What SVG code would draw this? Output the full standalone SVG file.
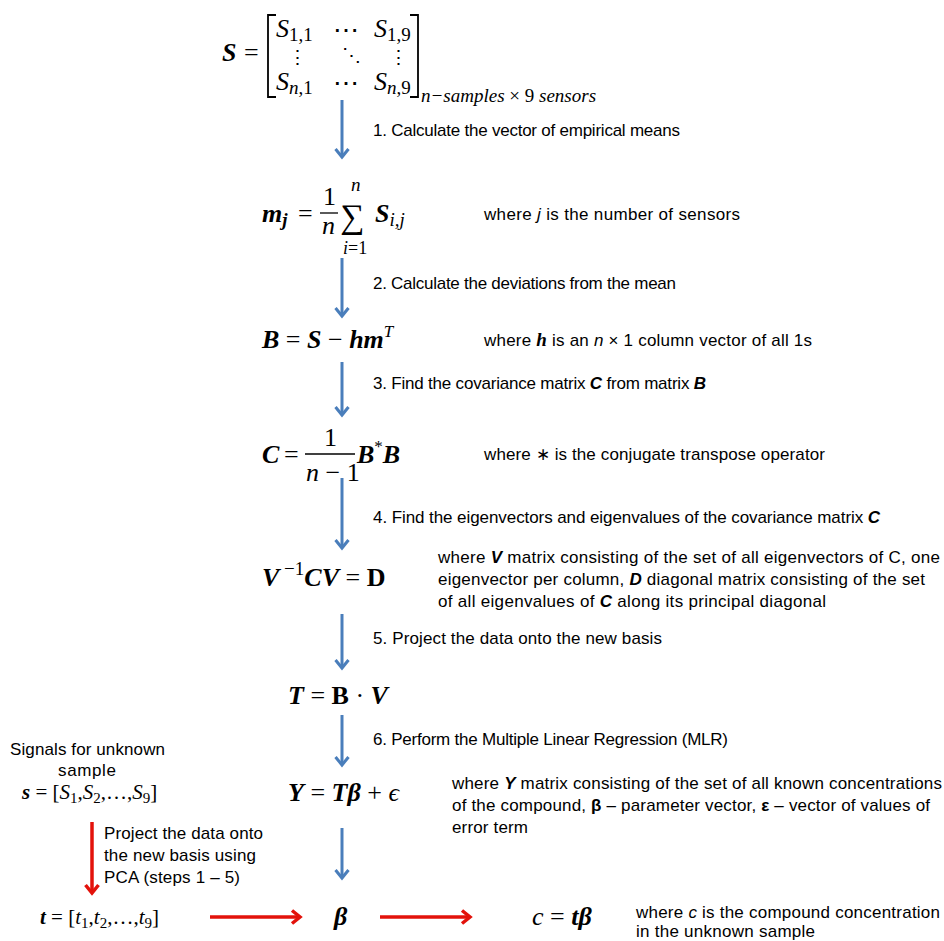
<svg xmlns="http://www.w3.org/2000/svg" width="944" height="941" viewBox="0 0 944 941">
<defs>
<style>
.m{font-family:"Liberation Serif","DejaVu Serif",serif;font-size:26px;fill:#000}
.bi{font-weight:bold;font-style:italic}
.it{font-style:italic}
.b{font-weight:bold}
.t{font-family:"Liberation Sans",Arial,sans-serif;font-size:17px;fill:#000}
.blue{stroke:#4a7ebb;stroke-width:3;fill:none}
.red{stroke:#e3120b;stroke-width:3.5;fill:none}
</style>
<marker id="ab" markerUnits="userSpaceOnUse" markerWidth="16" markerHeight="16" refX="13" refY="8" orient="auto">
<path d="M5,1.5 L13,8 L5,14.5" fill="none" stroke="#4a7ebb" stroke-width="3"/>
</marker>
<marker id="ar" markerUnits="userSpaceOnUse" markerWidth="16" markerHeight="16" refX="13" refY="8" orient="auto">
<path d="M5,1.5 L13,8 L5,14.5" fill="none" stroke="#e3120b" stroke-width="3.5"/>
</marker>
</defs>
<rect width="944" height="941" fill="#fff"/>

<g id="connectors">
<line class="blue" x1="342" y1="100" x2="342" y2="157" marker-end="url(#ab)"/>
<line class="blue" x1="342" y1="258" x2="342" y2="316" marker-end="url(#ab)"/>
<line class="blue" x1="342" y1="362" x2="342" y2="415" marker-end="url(#ab)"/>
<line class="blue" x1="342" y1="478" x2="342" y2="548" marker-end="url(#ab)"/>
<line class="blue" x1="342" y1="614" x2="342" y2="668" marker-end="url(#ab)"/>
<line class="blue" x1="342" y1="715" x2="342" y2="765" marker-end="url(#ab)"/>
<line class="blue" x1="342" y1="828" x2="342" y2="878" marker-end="url(#ab)"/>
<line class="red" x1="92" y1="822" x2="92" y2="893" marker-end="url(#ar)"/>
<line class="red" x1="210" y1="917" x2="300" y2="917" marker-end="url(#ar)"/>
<line class="red" x1="380" y1="917" x2="470" y2="917" marker-end="url(#ar)"/>
</g>

<g id="matrix-S">
<text class="m bi" x="222" y="61">S</text>
<text class="m" x="244" y="61">=</text>
<path d="M276,15 H268 V97 H276 M410,15 H418 V97 H410" fill="none" stroke="#000" stroke-width="1.8"/>
<text class="m it" x="276" y="37">S<tspan font-size="19" dy="4" font-style="normal">1,1</tspan></text>
<text class="m" x="333" y="39">⋯</text>
<text class="m it" x="374" y="37">S<tspan font-size="19" dy="4" font-style="normal">1,9</tspan></text>
<text class="m" x="288" y="64" style="font-size:19px">⋮</text>
<text class="m" x="342" y="62" style="font-size:19px">⋱</text>
<text class="m" x="389" y="64" style="font-size:19px">⋮</text>
<text class="m it" x="276" y="90">S<tspan font-size="19" dy="4">n</tspan><tspan font-size="19" font-style="normal">,1</tspan></text>
<text class="m" x="333" y="92">⋯</text>
<text class="m it" x="374" y="90">S<tspan font-size="19" dy="4">n</tspan><tspan font-size="19" font-style="normal">,9</tspan></text>
<text class="m it" x="421" y="102" style="font-size:19px">n−samples <tspan font-style="normal">× 9</tspan> sensors</text>
</g>

<g id="step1">
<text class="t" x="373" y="136" textLength="307">1. Calculate the vector of empirical means</text>
</g>

<g id="eq-mean">
<text class="m" x="262" y="222"><tspan class="bi">m</tspan><tspan class="bi" font-size="19" dy="4">j</tspan></text>
<text class="m" x="298" y="222">=</text>
<text class="m" x="323" y="205">1</text>
<line x1="320" y1="213" x2="338" y2="213" stroke="#000" stroke-width="1.3"/>
<text class="m it" x="322" y="234">n</text>
<text class="m" x="340" y="228" style="font-size:34px">∑</text>
<text class="m it" x="351" y="191" style="font-size:19px">n</text>
<text class="m" x="343" y="254" style="font-size:18px"><tspan class="it">i</tspan>=1</text>
<text class="m" x="375" y="222"><tspan class="bi">S</tspan><tspan class="it" font-size="19" dy="4">i,j</tspan></text>
<text class="t" x="484" y="220" textLength="256">where <tspan class="it">j</tspan> is the number of sensors</text>
</g>

<g id="step2">
<text class="t" x="373" y="289" textLength="303">2. Calculate the deviations from the mean</text>
</g>

<g id="eq-B">
<text class="m" x="262" y="348"><tspan class="bi">B</tspan> = <tspan class="bi">S</tspan> − <tspan class="bi">hm</tspan><tspan class="it" font-size="17" dy="-11">T</tspan></text>
<text class="t" x="484" y="346" textLength="328">where <tspan font-family="Liberation Serif" font-weight="bold" font-style="italic" font-size="19">h</tspan> is an <tspan class="it">n</tspan> × 1 column vector of all 1s</text>
</g>

<g id="step3">
<text class="t" x="373" y="389" textLength="333">3. Find the covariance matrix <tspan class="bi">C</tspan> from matrix <tspan class="bi">B</tspan></text>
</g>

<g id="eq-C">
<text class="m bi" x="262" y="463">C</text>
<text class="m" x="284" y="463">=</text>
<text class="m" x="324" y="446">1</text>
<line x1="305" y1="454" x2="355" y2="454" stroke="#000" stroke-width="1.3"/>
<text class="m" x="306" y="481"><tspan class="it">n</tspan> − 1</text>
<text class="m" x="357" y="463"><tspan class="bi">B</tspan><tspan font-size="17" dy="-11">*</tspan><tspan class="bi" dy="11">B</tspan></text>
<text class="t" x="484" y="460" textLength="341">where ∗ is the conjugate transpose operator</text>
</g>

<g id="step4">
<text class="t" x="373" y="523" textLength="507">4. Find the eigenvectors and eigenvalues of the covariance matrix <tspan class="bi">C</tspan></text>
</g>

<g id="eq-eig">
<text class="m" x="262" y="586"><tspan class="bi">V</tspan><tspan font-size="19" dy="-11"> −1</tspan><tspan class="bi" dy="11">CV</tspan> = <tspan class="b">D</tspan></text>
<text class="t" x="438" y="563" textLength="502">where <tspan class="bi">V</tspan> matrix consisting of the set of all eigenvectors of C, one</text>
<text class="t" x="438" y="585" textLength="487">eigenvector per column, <tspan class="bi">D</tspan> diagonal matrix consisting of the set</text>
<text class="t" x="438" y="607" textLength="388">of all eigenvalues of <tspan class="bi">C</tspan> along its principal diagonal</text>
</g>

<g id="step5">
<text class="t" x="373" y="644" textLength="289">5. Project the data onto the new basis</text>
</g>

<g id="eq-T">
<text class="m" x="288" y="704"><tspan class="bi">T</tspan> = <tspan class="b">B</tspan> · <tspan class="bi">V</tspan></text>
</g>

<g id="step6">
<text class="t" x="373" y="745" textLength="355">6. Perform the Multiple Linear Regression (MLR)</text>
</g>

<g id="eq-Y">
<text class="m" x="288" y="801"><tspan class="bi">Y</tspan> = <tspan class="bi">Tβ</tspan> + <tspan class="it">ϵ</tspan></text>
<text class="t" x="452" y="789" textLength="490">where <tspan class="bi">Y</tspan> matrix consisting of the set of all known concentrations</text>
<text class="t" x="452" y="811" textLength="478">of the compound, <tspan class="b">β</tspan> – parameter vector, <tspan class="b">ε</tspan> – vector of values of</text>
<text class="t" x="452" y="833" textLength="76">error term</text>
</g>

<g id="unknown-sample">
<text class="t" x="10" y="755" textLength="155">Signals for unknown</text>
<text class="t" x="58" y="776" textLength="58">sample</text>
<text class="m" x="22" y="799" style="font-size:21px"><tspan class="bi">s</tspan> = [<tspan class="it">S</tspan><tspan font-size="15" dy="4">1</tspan><tspan dy="-4">,</tspan><tspan class="it">S</tspan><tspan font-size="15" dy="4">2</tspan><tspan dy="-4">,…,</tspan><tspan class="it">S</tspan><tspan font-size="15" dy="4">9</tspan><tspan dy="-4">]</tspan></text>
<text class="t" x="104" y="839" textLength="159">Project the data onto</text>
<text class="t" x="104" y="861" textLength="152">the new basis using</text>
<text class="t" x="104" y="883" textLength="136">PCA (steps 1 – 5)</text>
</g>

<g id="vector-t">
<text class="m" x="40" y="924" style="font-size:21px"><tspan class="bi">t</tspan> = [<tspan class="it">t</tspan><tspan font-size="15" dy="4">1</tspan><tspan dy="-4">,</tspan><tspan class="it">t</tspan><tspan font-size="15" dy="4">2</tspan><tspan dy="-4">,…,</tspan><tspan class="it">t</tspan><tspan font-size="15" dy="4">9</tspan><tspan dy="-4">]</tspan></text>
</g>

<g id="beta">
<text class="m bi" x="334" y="925">β</text>
</g>

<g id="concentration">
<text class="m" x="532" y="925"><tspan class="it">c</tspan> = <tspan class="bi">tβ</tspan></text>
<text class="t" x="636" y="918" textLength="304">where <tspan class="it">c</tspan> is the compound concentration</text>
<text class="t" x="636" y="937" textLength="179">in the unknown sample</text>
</g>
</svg>
